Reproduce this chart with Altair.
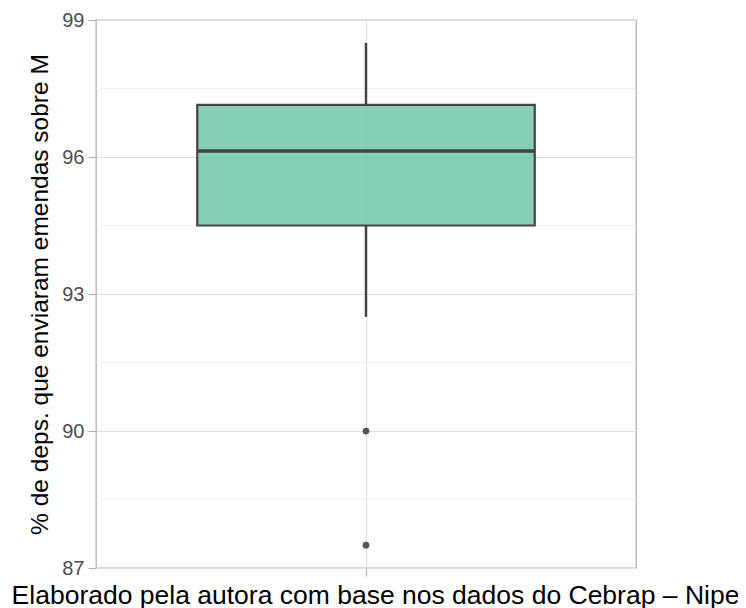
import altair as alt
import pandas as pd

# Boxplot statistics
category = [""]
lower_whisker = [92.5]
q1 = [94.5]
median = [96.13]
q3 = [97.14]
upper_whisker = [98.5]
outliers = [90.0, 87.5]

y_ticks = [87, 90, 93, 96, 99]
y_minor = [88.5, 91.5, 94.5, 97.5]

y_title = "% de deps. que enviaram emendas sobre M"
caption = "Elaborado pela autora com base nos dados do Cebrap – Nipe"

stats = pd.DataFrame({
    "cat": category,
    "lower": lower_whisker,
    "q1": q1,
    "median": median,
    "q3": q3,
    "upper": upper_whisker,
})
out_df = pd.DataFrame({"cat": category * len(outliers), "value": outliers})
minor_df = pd.DataFrame({"minor": y_minor})

FONT = "Liberation Sans"
W, H = 540, 548

yscale = alt.Scale(domain=[87, 99], nice=False, zero=False)
xscale = alt.Scale(type="band", paddingInner=0, paddingOuter=0.3)

x_enc = alt.X(
    "cat:N",
    scale=xscale,
    axis=alt.Axis(
        title=caption,
        labels=False,
        domain=False,
        ticks=True,
        tickSize=8,
        tickColor="#b3b3b3",
        tickWidth=1.2,
        grid=True,
        gridColor="#dedede",
        gridWidth=1,
        bandPosition=0.5,
        titleFont=FONT,
        titleFontSize=26.5,
        titleFontWeight="normal",
        titleColor="#000000",
        titleX=279,
        titleY=35,
        titleBaseline="alphabetic",
        titleAlign="center",
    ),
)

y_axis = alt.Axis(
    title=y_title,
    values=y_ticks,
    format="d",
    domain=False,
    grid=True,
    gridColor="#dedede",
    gridWidth=1,
    tickSize=8,
    tickColor="#b3b3b3",
    tickWidth=1.2,
    labelFont=FONT,
    labelFontSize=20,
    labelColor="#4d4d4d",
    labelPadding=4,
    titleFont=FONT,
    titleFontSize=24.5,
    titleFontWeight="normal",
    titleColor="#000000",
    titleAngle=270,
    titleX=-49,
    titleY=274,
    titleBaseline="alphabetic",
    titleAlign="center",
)

minor = alt.Chart(minor_df).mark_rule(color="#ececec", strokeWidth=0.8).encode(
    y=alt.Y("minor:Q", scale=yscale, axis=y_axis)
)

whisker_low = alt.Chart(stats).mark_rule(color="#444444", strokeWidth=2.5).encode(
    x=alt.X("cat:N", scale=xscale),
    y=alt.Y("lower:Q", scale=yscale),
    y2="q1:Q",
)
whisker_high = alt.Chart(stats).mark_rule(color="#444444", strokeWidth=2.5).encode(
    x=alt.X("cat:N", scale=xscale),
    y=alt.Y("q3:Q", scale=yscale),
    y2="upper:Q",
)

box = alt.Chart(stats).mark_bar(
    fill="#66c2a5", fillOpacity=0.8, stroke="#444444", strokeWidth=2.2
).encode(
    x=x_enc,
    y=alt.Y("q1:Q", scale=yscale),
    y2="q3:Q",
)

med = alt.Chart(stats).mark_bar(
    fillOpacity=0, stroke="#444444", strokeWidth=3.6
).encode(
    x=alt.X("cat:N", scale=xscale),
    y=alt.Y("median:Q", scale=yscale),
    y2="median:Q",
)

pts = alt.Chart(out_df).mark_circle(color="#555555", opacity=1, size=45).encode(
    x=alt.X("cat:N", scale=xscale),
    y=alt.Y("value:Q", scale=yscale),
)

chart = (
    alt.layer(minor, whisker_low, whisker_high, box, med, pts)
    .properties(
        width=W,
        height=H,
        autosize=alt.AutoSizeParams(type="none"),
        padding={"left": 88, "top": 12, "right": 102, "bottom": 40},
        background="white",
    )
    .configure_view(stroke="#b3b3b3", strokeWidth=1.3)
)

chart.save("out.html", embed_options={"renderer": "svg", "actions": False})
